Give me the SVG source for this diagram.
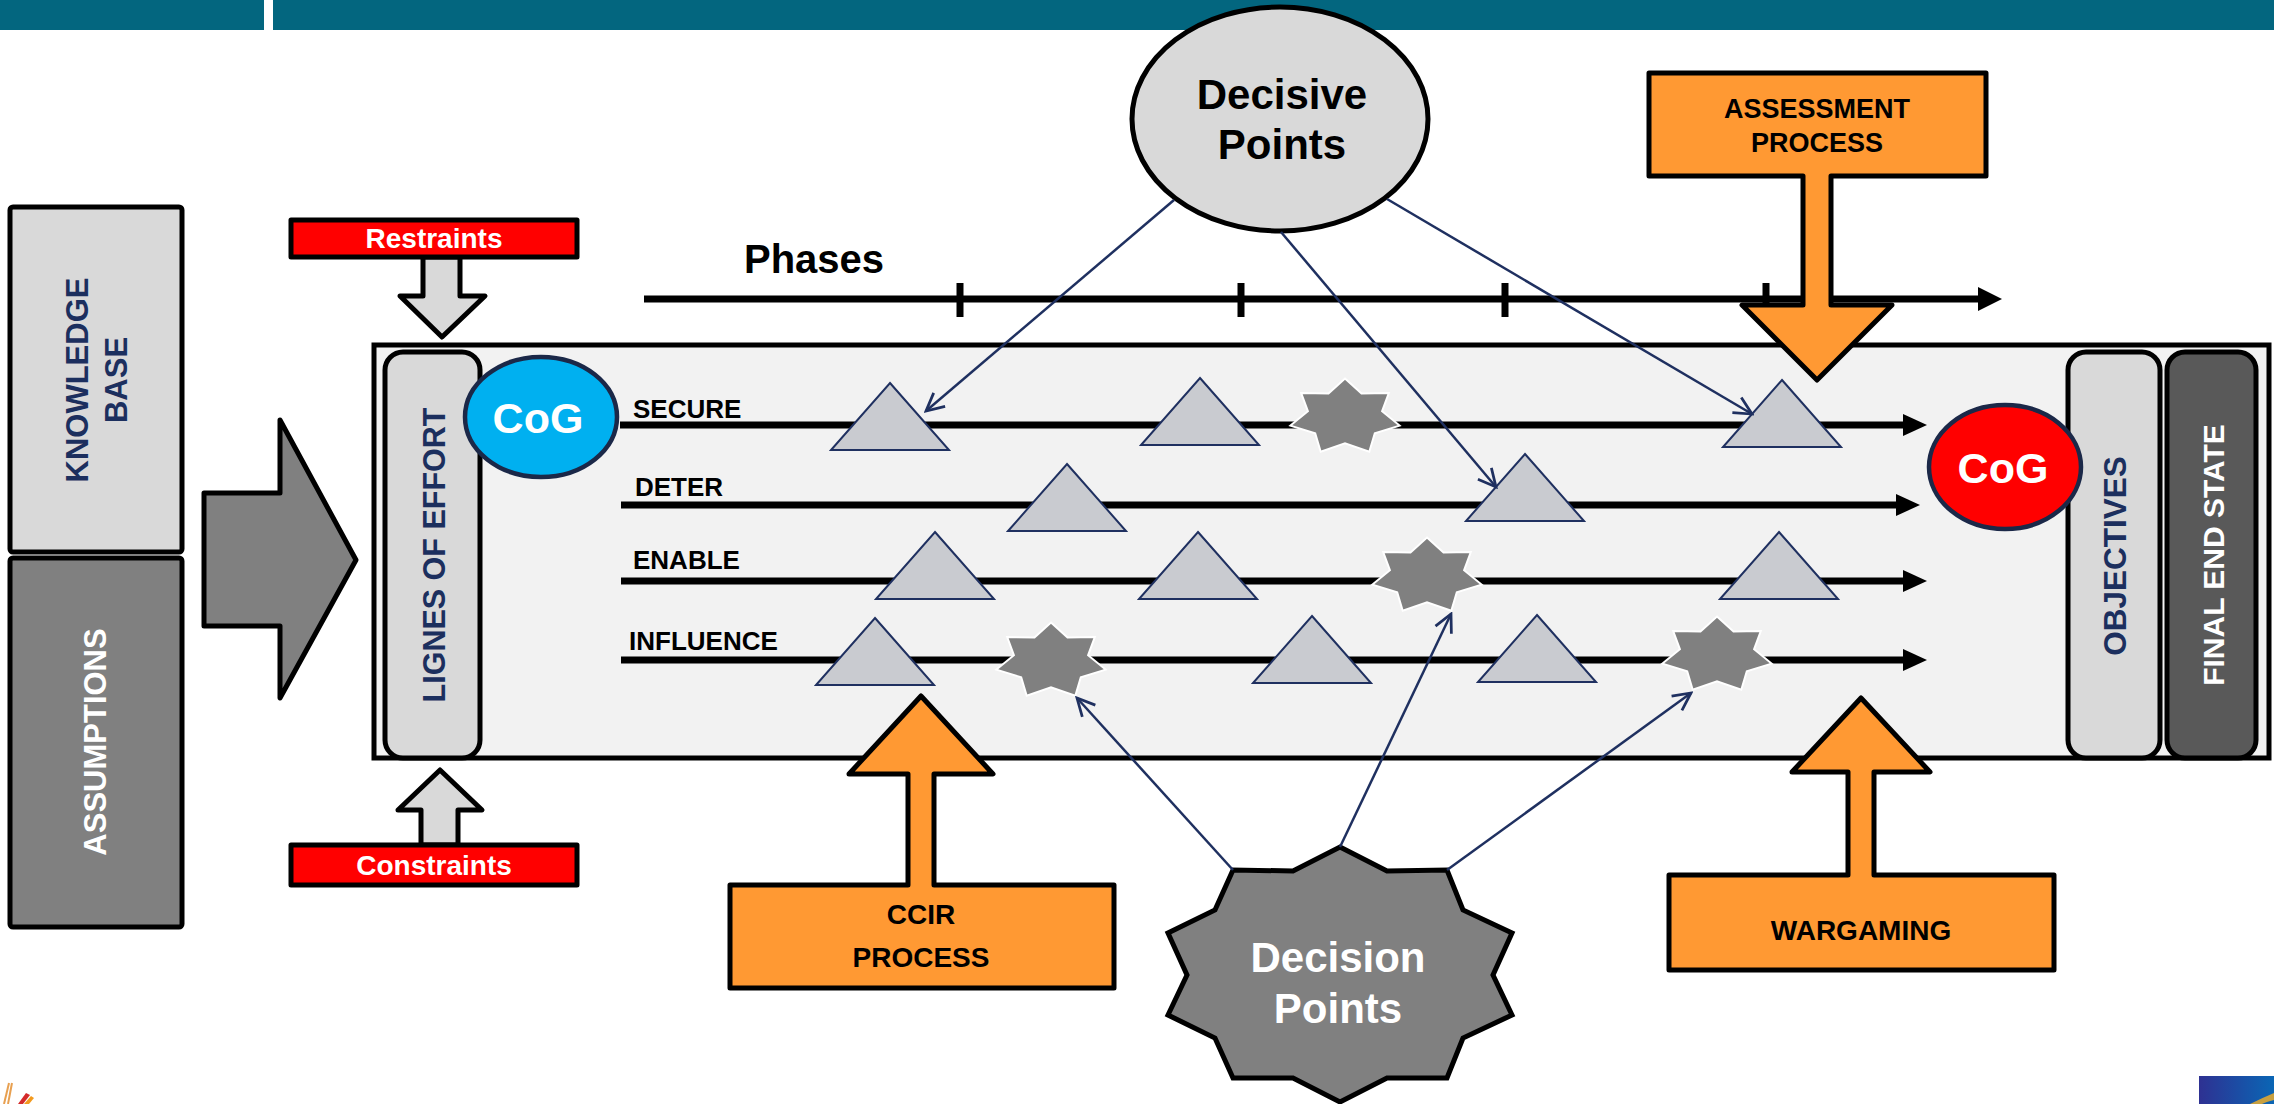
<svg xmlns="http://www.w3.org/2000/svg" xmlns:xlink="http://www.w3.org/1999/xlink" width="2274" height="1104" viewBox="0 0 2274 1104">
<style>
text{font-family:"Liberation Sans",Arial,sans-serif;font-weight:bold}
.bar{fill:#03667f}
.box{stroke:#000;stroke-width:5;stroke-linejoin:round}
.navy{fill:#1c2f5e}
.white{fill:#fff}
.blk{fill:#000}
.row{stroke:#000;stroke-width:7}
.tri{fill:#c9cbd0;stroke:#1f3060;stroke-width:2}
.st7{fill:#808080;stroke:#fff;stroke-width:2}
.org{fill:#ff9933;stroke:#000;stroke-width:5;stroke-linejoin:round}
.con{stroke:#1f3060;stroke-width:2.5;fill:none;marker-end:url(#oa)}
</style>
<defs>
<marker id="oa" markerWidth="22" markerHeight="22" viewBox="0 0 20 20" refX="18" refY="10" orient="auto" markerUnits="userSpaceOnUse">
<path d="M2,2 L18,10 L2,18" fill="none" stroke="#1f3060" stroke-width="2.5"/>
</marker>
<path id="star7" d="M0,-38.5 L16.5,-23.6 L43.8,-24 L37.1,-5.8 L54.6,8.6 L29.8,16.3 L24.3,34.7 L0,26.2 L-24.3,34.7 L-29.8,16.3 L-54.6,8.6 L-37.1,-5.8 L-43.8,-24 L-16.5,-23.6 Z"/>
<path id="tri" d="M0,0 L59,67 L-59,67 Z"/>
<linearGradient id="lg" x1="0" y1="0" x2="1" y2="0">
<stop offset="0" stop-color="#2e3192"/><stop offset="1" stop-color="#0a66b5"/>
</linearGradient>
</defs>
<rect width="2274" height="1104" fill="#fff"/>
<g id="topbar">
<rect class="bar" x="0" y="0" width="264" height="30"/>
<rect class="bar" x="273" y="0" width="2001" height="30"/>
</g>
<g id="knowledge-base">
<rect class="box" x="10" y="207" width="172" height="345" rx="3" fill="#d9d9d9"/>
<g transform="translate(96,380) rotate(-90)">
<text class="navy" x="0" y="-8" font-size="31" text-anchor="middle">KNOWLEDGE</text>
<text class="navy" x="0" y="31" font-size="31" text-anchor="middle">BASE</text>
</g>
</g>
<g id="assumptions">
<rect class="box" x="10" y="558" width="172" height="369" rx="3" fill="#808080"/>
<text class="white" transform="translate(95,742) rotate(-90)" x="0" y="11" font-size="31" text-anchor="middle">ASSUMPTIONS</text>
</g>
<g id="input-arrow">
<path class="box" fill="#808080" d="M204,493 H280 V420 L356,560 L280,698 V626 H204 Z"/>
</g>
<g id="restraints">
<path class="box" fill="#d9d9d9" d="M423,257 V296 H400 L442,337 L485,296 H460 V257 Z"/>
<rect class="box" x="291" y="220" width="286" height="37" fill="#ff0000"/>
<text class="white" x="434" y="248" font-size="28" text-anchor="middle">Restraints</text>
</g>
<g id="constraints">
<path class="box" fill="#d9d9d9" d="M421,845 V810 H398 L440,770 L482,810 H458 V845 Z"/>
<rect class="box" x="291" y="845" width="286" height="40" fill="#ff0000"/>
<text class="white" x="434" y="875" font-size="28" text-anchor="middle">Constraints</text>
</g>
<g id="panel">
<rect x="374" y="345" width="1895" height="413" fill="#f2f2f2" stroke="#000" stroke-width="5"/>
</g>
<g id="lignes-of-effort">
<rect class="box" x="385" y="352" width="95" height="406" rx="18" fill="#d9d9d9"/>
<text class="navy" transform="translate(434,555) rotate(-90)" x="0" y="11" font-size="30.5" text-anchor="middle">LIGNES OF EFFORT</text>
</g>
<g id="objectives">
<rect class="box" x="2068" y="352" width="92" height="406" rx="18" fill="#d9d9d9"/>
<text class="navy" transform="translate(2115,556) rotate(-90)" x="0" y="11" font-size="31.5" text-anchor="middle">OBJECTIVES</text>
</g>
<g id="final-end-state">
<rect class="box" x="2167" y="352" width="89" height="406" rx="18" fill="#595959"/>
<text class="white" transform="translate(2213,555) rotate(-90)" x="0" y="11" font-size="30" text-anchor="middle">FINAL END STATE</text>
</g>
<g id="lines-of-effort">
<line class="row" x1="620" y1="425" x2="1906" y2="425"/>
<polygon class="blk" points="1903,414 1927,425 1903,436"/>
<line class="row" x1="621" y1="505" x2="1899" y2="505"/>
<polygon class="blk" points="1896,494 1920,505 1896,516"/>
<line class="row" x1="621" y1="581" x2="1906" y2="581"/>
<polygon class="blk" points="1903,570 1927,581 1903,592"/>
<line class="row" x1="621" y1="660" x2="1906" y2="660"/>
<polygon class="blk" points="1903,649 1927,660 1903,671"/>
<text class="blk" x="633" y="418" font-size="26">SECURE</text>
<text class="blk" x="635" y="496" font-size="26">DETER</text>
<text class="blk" x="633" y="569" font-size="26">ENABLE</text>
<text class="blk" x="629" y="650" font-size="26">INFLUENCE</text>
</g>
<g id="decisive-point-markers">
<use xlink:href="#tri" class="tri" x="890" y="383"/>
<use xlink:href="#tri" class="tri" x="1200" y="378"/>
<use xlink:href="#tri" class="tri" x="1782" y="380"/>
<use xlink:href="#tri" class="tri" x="1067" y="464"/>
<use xlink:href="#tri" class="tri" x="1525" y="454"/>
<use xlink:href="#tri" class="tri" x="935" y="532"/>
<use xlink:href="#tri" class="tri" x="1198" y="532"/>
<use xlink:href="#tri" class="tri" x="1779" y="532"/>
<use xlink:href="#tri" class="tri" x="875" y="618"/>
<use xlink:href="#tri" class="tri" x="1312" y="616"/>
<use xlink:href="#tri" class="tri" x="1537" y="615"/>
</g>
<g id="decision-point-markers">
<use xlink:href="#star7" class="st7" x="1345" y="417"/>
<use xlink:href="#star7" class="st7" x="1427" y="576"/>
<use xlink:href="#star7" class="st7" x="1051" y="661"/>
<use xlink:href="#star7" class="st7" x="1717" y="655"/>
</g>
<g id="cog-blue">
<ellipse cx="541" cy="417" rx="76" ry="60" fill="#00b0f0" stroke="#1b2848" stroke-width="4.5"/>
<text class="white" x="538" y="433" font-size="43" text-anchor="middle">CoG</text>
</g>
<g id="cog-red">
<ellipse cx="2005" cy="467" rx="76" ry="62" fill="#ff0000" stroke="#1b2848" stroke-width="4.5"/>
<text class="white" x="2003" y="483" font-size="43" text-anchor="middle">CoG</text>
</g>
<g id="phases">
<line x1="644" y1="299" x2="1981" y2="299" stroke="#000" stroke-width="7"/>
<polygon class="blk" points="1978,287 2002,299 1978,311"/>
<g stroke="#000" stroke-width="7">
<line x1="960" y1="283" x2="960" y2="317"/>
<line x1="1241" y1="283" x2="1241" y2="317"/>
<line x1="1505" y1="283" x2="1505" y2="317"/>
<line x1="1766" y1="283" x2="1766" y2="317"/>
</g>
<text class="blk" x="744" y="273" font-size="40">Phases</text>
</g>
<g id="assessment-process">
<path class="org" d="M1649,73 H1986 V176 H1831 V305 H1892 L1817,380 L1742,305 H1803 V176 H1649 Z"/>
<text class="blk" x="1817" y="118" font-size="27" text-anchor="middle">ASSESSMENT</text>
<text class="blk" x="1817" y="152" font-size="27" text-anchor="middle">PROCESS</text>
</g>
<g id="ccir-process">
<path class="org" d="M730,885 H908 V774 H849 L921,696 L993,774 H934 V885 H1114 V988 H730 Z"/>
<text class="blk" x="921" y="924" font-size="28" text-anchor="middle">CCIR</text>
<text class="blk" x="921" y="967" font-size="28" text-anchor="middle">PROCESS</text>
</g>
<g id="wargaming">
<path class="org" d="M1669,875 H1848 V772 H1792 L1861,698 L1930,772 H1874 V875 H2054 V970 H1669 Z"/>
<text class="blk" x="1861" y="940" font-size="28" text-anchor="middle">WARGAMING</text>
</g>
<g id="decisive-points">
<ellipse cx="1280" cy="119" rx="148" ry="112" fill="#d9d9d9" stroke="#000" stroke-width="5"/>
<text class="blk" x="1282" y="109" font-size="42" text-anchor="middle">Decisive</text>
<text class="blk" x="1282" y="159" font-size="42" text-anchor="middle">Points</text>
</g>
<g id="decision-points">
<path d="M1340,847 L1387,871 L1447,870 L1463,910 L1512,933 L1493,975 L1512,1015 L1463,1038 L1447,1078 L1387,1078 L1340,1102 L1293,1078 L1233,1078 L1215,1038 L1168,1015 L1187,975 L1168,933 L1215,910 L1233,870 L1293,871 Z" fill="#808080" stroke="#000" stroke-width="5" stroke-linejoin="miter"/>
<text class="white" x="1338" y="972" font-size="42" text-anchor="middle">Decision</text>
<text class="white" x="1338" y="1023" font-size="42" text-anchor="middle">Points</text>
</g>
<g id="connectors">
<line class="con" x1="1174" y1="200" x2="926" y2="411"/>
<line class="con" x1="1281" y1="232" x2="1496" y2="487"/>
<line class="con" x1="1387" y1="199" x2="1752" y2="414"/>
<line class="con" x1="1233" y1="870" x2="1077" y2="698"/>
<line class="con" x1="1340" y1="847" x2="1451" y2="614"/>
<line class="con" x1="1447" y1="870" x2="1691" y2="693"/>
</g>
<g id="logo-left">
<line x1="4" y1="1104" x2="9" y2="1083" stroke="#e8a050" stroke-width="2"/>
<line x1="8" y1="1104" x2="12" y2="1083" stroke="#e8a050" stroke-width="2"/>
<polygon points="18,1104 26,1093 30,1095 23,1104" fill="#d42a2a"/>
<polygon points="24,1104 31,1096 34,1098 29,1104" fill="#f39a1e"/>
</g>
<g id="logo-right">
<rect x="2199" y="1076" width="75" height="28" fill="url(#lg)"/>
<path d="M2250,1104 Q2262,1098 2274,1093 V1100 Q2266,1102 2262,1104 Z" fill="#c8a040"/>
</g>
</svg>
